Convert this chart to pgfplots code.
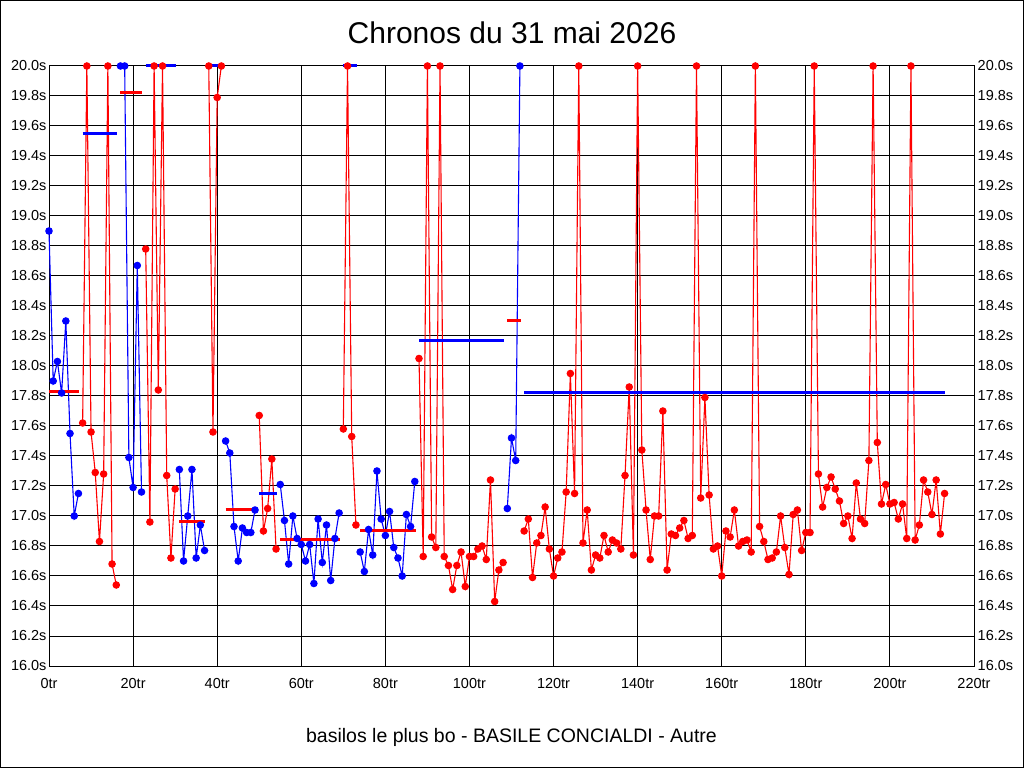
\documentclass[border=0pt]{standalone}
\usepackage{fontspec}
\setmainfont{Liberation Sans}
\usepackage{pgfplots}
\pgfplotsset{compat=1.18}
\begin{document}
\begin{tikzpicture}[x=1pt,y=1pt]
\path[use as bounding box] (0,0) rectangle (1024,768);
\draw[black, line width=1pt] (0.5,0.5) rectangle (1023.5,767.5);
\node[font=\fontsize{30}{36}\selectfont, inner sep=0pt] at (512,735.5) {Chronos du 31 mai 2026};
\node[font=\fontsize{19.5}{24}\selectfont, inner sep=0pt, anchor=base] at (511.5,26) {basilos le plus bo - BASILE CONCIALDI - Autre};
\begin{axis}[
  at={(49pt,102pt)}, anchor=south west,
  width=925pt, height=600pt, scale only axis,
  xmin=0, xmax=220, ymin=16, ymax=20,
  clip=false,
  axis line style={black, line width=1pt},
  grid=major, major grid style={black, line width=1pt},
  major tick length=0pt,
  /pgf/number format/assume math mode=true,
  xtick={0,20,40,60,80,100,120,140,160,180,200,220},
  xticklabels={0tr,20tr,40tr,60tr,80tr,100tr,120tr,140tr,160tr,180tr,200tr,220tr},
  ytick={16,16.2,16.4,16.6,16.8,17,17.2,17.4,17.6,17.8,18,18.2,18.4,18.6,18.8,19,19.2,19.4,19.6,19.8,20},
  yticklabels={16.0s,16.2s,16.4s,16.6s,16.8s,17.0s,17.2s,17.4s,17.6s,17.8s,18.0s,18.2s,18.4s,18.6s,18.8s,19.0s,19.2s,19.4s,19.6s,19.8s,20.0s},
  xticklabel style={font=\fontsize{14.5}{17}\selectfont, inner sep=0pt, anchor=base, yshift=-22pt},
  yticklabel style={font=\fontsize{14.5}{17}\selectfont, inner sep=0pt, anchor=east, xshift=-2.3pt},
  every axis plot/.append style={line width=1.1pt, mark size=3.2pt},
]
% segments (laps)
\addplot[blue, mark=*, mark options={fill=blue}] coordinates {(0,18.90) (1,17.90) (2,18.03) (3,17.82) (4,18.30) (5,17.55) (6,17.00) (7,17.15)};
\addplot[red, mark=*, mark options={fill=red}] coordinates {(8,17.62) (9,20.00) (10,17.56) (11,17.29) (12,16.83) (13,17.28) (14,20.00) (15,16.68) (16,16.54)};
\addplot[blue, mark=*, mark options={fill=blue}] coordinates {(17,20.00) (18,20.00) (19,17.39) (20,17.19) (21,18.67) (22,17.16)};
\addplot[red, mark=*, mark options={fill=red}] coordinates {(23,18.78) (24,16.96) (25,20.00) (26,17.84) (27,20.00) (28,17.27) (29,16.72) (30,17.18)};
\addplot[blue, mark=*, mark options={fill=blue}] coordinates {(31,17.31) (32,16.70) (33,17.00) (34,17.31) (35,16.72) (36,16.94) (37,16.77)};
\addplot[red, mark=*, mark options={fill=red}] coordinates {(38,20.00) (39,17.56) (40,19.79) (41,20.00)};
\addplot[blue, mark=*, mark options={fill=blue}] coordinates {(42,17.50) (43,17.42) (44,16.93) (45,16.70) (46,16.92) (47,16.89) (48,16.89) (49,17.04)};
\addplot[red, mark=*, mark options={fill=red}] coordinates {(50,17.67) (51,16.90) (52,17.05) (53,17.38) (54,16.78)};
\addplot[blue, mark=*, mark options={fill=blue}] coordinates {(55,17.21) (56,16.97) (57,16.68) (58,17.00) (59,16.85) (60,16.81) (61,16.70) (62,16.81) (63,16.55) (64,16.98) (65,16.69) (66,16.94) (67,16.57) (68,16.85) (69,17.02)};
\addplot[red, mark=*, mark options={fill=red}] coordinates {(70,17.58) (71,20.00) (72,17.53) (73,16.94)};
\addplot[blue, mark=*, mark options={fill=blue}] coordinates {(74,16.76) (75,16.63) (76,16.91) (77,16.74) (78,17.30) (79,16.98) (80,16.87) (81,17.03) (82,16.79) (83,16.72) (84,16.60) (85,17.01) (86,16.93) (87,17.23)};
\addplot[red, mark=*, mark options={fill=red}] coordinates {(88,18.05) (89,16.73) (90,20.00) (91,16.86) (92,16.79) (93,20.00) (94,16.73) (95,16.67) (96,16.51) (97,16.67) (98,16.76) (99,16.53) (100,16.73) (101,16.73) (102,16.78) (103,16.80) (104,16.71) (105,17.24) (106,16.43) (107,16.64) (108,16.69)};
\addplot[blue, mark=*, mark options={fill=blue}] coordinates {(109,17.05) (110,17.52) (111,17.37) (112,20.00)};
\addplot[red, mark=*, mark options={fill=red}] coordinates {(113,16.90) (114,16.98) (115,16.59) (116,16.82) (117,16.87) (118,17.06) (119,16.78) (120,16.60) (121,16.72) (122,16.76) (123,17.16) (124,17.95) (125,17.15) (126,20.00) (127,16.82) (128,17.04) (129,16.64) (130,16.74) (131,16.72) (132,16.87) (133,16.76) (134,16.84) (135,16.82) (136,16.78) (137,17.27) (138,17.86) (139,16.74) (140,20.00) (141,17.44) (142,17.04) (143,16.71) (144,17.00) (145,17.00) (146,17.70) (147,16.64) (148,16.88) (149,16.87) (150,16.92) (151,16.97) (152,16.85) (153,16.87) (154,20.00) (155,17.12) (156,17.79) (157,17.14) (158,16.78) (159,16.80) (160,16.60) (161,16.90) (162,16.86) (163,17.04) (164,16.80) (165,16.83) (166,16.84) (167,16.76) (168,20.00) (169,16.93) (170,16.83) (171,16.71) (172,16.72) (173,16.76) (174,17.00) (175,16.79) (176,16.61) (177,17.01) (178,17.04) (179,16.77) (180,16.89) (181,16.89) (182,20.00) (183,17.28) (184,17.06) (185,17.19) (186,17.26) (187,17.18) (188,17.10) (189,16.95) (190,17.00) (191,16.85) (192,17.22) (193,16.98) (194,16.95) (195,17.37) (196,20.00) (197,17.49) (198,17.08) (199,17.21) (200,17.08) (201,17.09) (202,16.98) (203,17.08) (204,16.85) (205,20.00) (206,16.84) (207,16.94) (208,17.24) (209,17.16) (210,17.01) (211,17.24) (212,16.88) (213,17.15)};
% segment averages
\addplot[red, line width=3pt, no marks] coordinates {(0,17.83) (7.2,17.83)};
\addplot[blue, line width=3pt, no marks] coordinates {(8,19.55) (16.2,19.55)};
\addplot[red, line width=3pt, no marks] coordinates {(17,19.82) (22.2,19.82)};
\addplot[blue, line width=3pt, no marks] coordinates {(23,20.00) (30.2,20.00)};
\addplot[red, line width=3pt, no marks] coordinates {(31,16.96) (37.2,16.96)};
\addplot[blue, line width=3pt, no marks] coordinates {(38,20.00) (41.2,20.00)};
\addplot[red, line width=3pt, no marks] coordinates {(42,17.04) (49.2,17.04)};
\addplot[blue, line width=3pt, no marks] coordinates {(50,17.15) (54.2,17.15)};
\addplot[red, line width=3pt, no marks] coordinates {(55,16.84) (69.2,16.84)};
\addplot[blue, line width=3pt, no marks] coordinates {(70,20.00) (73.2,20.00)};
\addplot[red, line width=3pt, no marks] coordinates {(74,16.90) (87.2,16.90)};
\addplot[blue, line width=3pt, no marks] coordinates {(88,18.17) (108.2,18.17)};
\addplot[red, line width=3pt, no marks] coordinates {(109,18.30) (112.2,18.30)};
\addplot[blue, line width=3pt, no marks] coordinates {(113,17.82) (213.2,17.82)};
\end{axis}
\begin{axis}[
  at={(49pt,102pt)}, anchor=south west,
  width=925pt, height=600pt, scale only axis,
  xmin=0, xmax=220, ymin=16, ymax=20,
  axis x line=none, axis y line*=right,
  axis line style={black, line width=1pt},
  major tick length=0pt,
  /pgf/number format/assume math mode=true,
  ytick={16,16.2,16.4,16.6,16.8,17,17.2,17.4,17.6,17.8,18,18.2,18.4,18.6,18.8,19,19.2,19.4,19.6,19.8,20},
  yticklabels={16.0s,16.2s,16.4s,16.6s,16.8s,17.0s,17.2s,17.4s,17.6s,17.8s,18.0s,18.2s,18.4s,18.6s,18.8s,19.0s,19.2s,19.4s,19.6s,19.8s,20.0s},
  yticklabel style={font=\fontsize{14.5}{17}\selectfont, inner sep=0pt, anchor=west, xshift=3.5pt},
]
\addplot[draw=none] coordinates {(0,16) (220,20)};
\end{axis}
\end{tikzpicture}
\end{document}
